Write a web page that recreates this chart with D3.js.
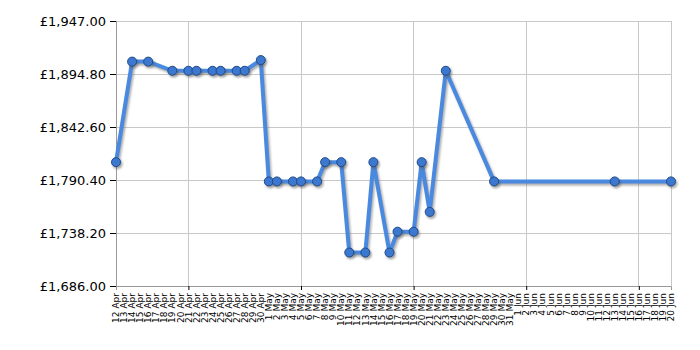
<!DOCTYPE html>
<html>
<head>
<meta charset="utf-8">
<script src="https://cdn.jsdelivr.net/npm/d3@7"></script>
<style>
  body { margin: 0; background: #fff; }
  text { font-family: "DejaVu Sans", Verdana, sans-serif; }
</style>
</head>
<body>
<svg id="chart" width="700" height="350"></svg>
<script>
// price history
var dates = ["2023-04-12","2023-04-14","2023-04-16","2023-04-19","2023-04-21","2023-04-22",
  "2023-04-24","2023-04-25","2023-04-27","2023-04-28","2023-04-30","2023-05-01","2023-05-02",
  "2023-05-04","2023-05-05","2023-05-07","2023-05-08","2023-05-10","2023-05-11","2023-05-13",
  "2023-05-14","2023-05-16","2023-05-17","2023-05-19","2023-05-20","2023-05-21","2023-05-23",
  "2023-05-29","2023-06-13","2023-06-20"];
var prices = [1808, 1907, 1907, 1898, 1898, 1898,
  1898, 1898, 1898, 1898, 1908.5, 1789, 1789,
  1789, 1789, 1789, 1808, 1808, 1719, 1719,
  1808, 1719, 1739.5, 1739.5, 1808, 1759, 1898,
  1789, 1789, 1789];
var xStart = "2023-04-12", xEnd = "2023-06-20";
var gridDates = ["2023-04-21","2023-05-05","2023-05-19","2023-06-02","2023-06-16"];
var yTicks = [1686, 1738.2, 1790.4, 1842.6, 1894.8, 1947];

var parse = d3.utcParse("%Y-%m-%d");
var data = dates.map(function(d, i){ return {date: parse(d), value: prices[i]}; });

var m = {left: 116, right: 29, top: 21, bottom: 64};
var svg = d3.select("#chart");
var W = 700, H = 350;

var x = d3.scaleUtc().domain([parse(xStart), parse(xEnd)]).range([m.left, W - m.right]);
var y = d3.scaleLinear().domain([1686, 1947]).range([H - m.bottom, m.top]);

var defs = svg.append("defs");
defs.append("filter").attr("id", "blur")
  .attr("x", "-10%").attr("y", "-10%").attr("width", "120%").attr("height", "120%")
  .append("feGaussianBlur").attr("stdDeviation", 1);

// grid
svg.append("g").selectAll("line").data(yTicks.slice(1)).join("line")
  .attr("x1", m.left).attr("x2", W - m.right)
  .attr("y1", function(d){ return y(d); }).attr("y2", function(d){ return y(d); })
  .attr("stroke", "#c8c8c8").attr("shape-rendering", "crispEdges");
svg.append("g").selectAll("line").data(gridDates.map(parse).concat([parse(xEnd)])).join("line")
  .attr("x1", function(d){ return x(d); }).attr("x2", function(d){ return x(d); })
  .attr("y1", m.top).attr("y2", H - m.bottom)
  .attr("stroke", "#c8c8c8").attr("shape-rendering", "crispEdges");

// y axis
var fmt = d3.format(",.2f");
var yAxis = svg.append("g").attr("transform", "translate(" + m.left + ",0)")
  .call(d3.axisLeft(y).tickValues(yTicks).tickSize(6).tickPadding(4)
    .tickFormat(function(d){ return "£" + fmt(d); }));
yAxis.select(".domain").attr("stroke", "#999");
yAxis.selectAll(".tick line").attr("stroke", "#000");
yAxis.selectAll("text").attr("font-size", 13).attr("font-family", "DejaVu Sans, Verdana, sans-serif").attr("fill", "#000");

// x axis: tick marks only at grid dates
var xAxis = svg.append("g").attr("transform", "translate(0," + (H - m.bottom) + ")")
  .call(d3.axisBottom(x).tickValues(gridDates.map(parse)).tickSize(4).tickFormat(""));
xAxis.select(".domain").attr("stroke", "#999");
xAxis.selectAll(".tick line").attr("stroke", "#000");

// day labels
var days = d3.utcDay.range(parse(xStart), d3.utcDay.offset(parse(xEnd), 1));
var dayFmt = d3.utcFormat("%-d %b");
svg.append("g").selectAll("text").data(days).join("text")
  .attr("transform", function(d){ return "translate(" + x(d) + "," + (H - m.bottom + 7) + ") rotate(-90)"; })
  .attr("text-anchor", "end").attr("dy", "0.35em")
  .attr("font-size", 9).attr("fill", "#000")
  .text(function(d){ return dayFmt(d); });

// line with shadow
var line = d3.line().x(function(d){ return x(d.date); }).y(function(d){ return y(d.value); });
svg.append("path").datum(data).attr("d", line)
  .attr("transform", "translate(1.5,2)")
  .attr("fill", "none").attr("stroke", "#777").attr("stroke-opacity", 0.6)
  .attr("stroke-width", 4).attr("stroke-linejoin", "round").attr("filter", "url(#blur)");
svg.append("path").datum(data).attr("d", line)
  .attr("fill", "none").attr("stroke", "#4a89e0")
  .attr("stroke-width", 4).attr("stroke-linejoin", "round");

// points
svg.append("g").selectAll("circle").data(data).join("circle")
  .attr("cx", function(d){ return x(d.date) + 1.5; }).attr("cy", function(d){ return y(d.value) + 2; })
  .attr("r", 5).attr("fill", "#555").attr("opacity", 0.5).attr("filter", "url(#blur)");
svg.append("g").selectAll("circle").data(data).join("circle")
  .attr("cx", function(d){ return x(d.date); }).attr("cy", function(d){ return y(d.value); })
  .attr("r", 4.5).attr("fill", "#3c78cf").attr("stroke", "#1f4a8a").attr("stroke-width", 1);
</script>
</body>
</html>
